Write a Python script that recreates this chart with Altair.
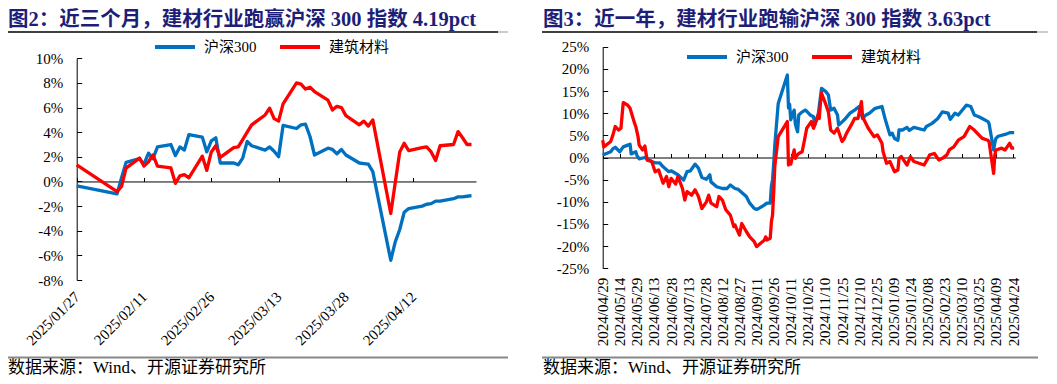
import altair as alt
import pandas as pd

# ---------------- data ----------------
SERIES = ["沪深300", "建筑材料"]
COLORS = ["#0070C0", "#FF0000"]

TITLE_L = "图2：近三个月，建材行业跑赢沪深 300 指数 4.19pct"
TITLE_R = "图3：近一年，建材行业跑输沪深 300 指数 3.63pct"
SOURCE = "数据来源：Wind、开源证券研究所"

# left panel (last three months), % cumulative
L_DATES = ["2025-01-27", "2025-02-05", "2025-02-06", "2025-02-07", "2025-02-10", "2025-02-11",
           "2025-02-12", "2025-02-13", "2025-02-14", "2025-02-17", "2025-02-18", "2025-02-19",
           "2025-02-20", "2025-02-21", "2025-02-24", "2025-02-25", "2025-02-26", "2025-02-27",
           "2025-02-28", "2025-03-03", "2025-03-04", "2025-03-05", "2025-03-06", "2025-03-07",
           "2025-03-10", "2025-03-11", "2025-03-12", "2025-03-13", "2025-03-14", "2025-03-17",
           "2025-03-18", "2025-03-19", "2025-03-20", "2025-03-21", "2025-03-24", "2025-03-25",
           "2025-03-26", "2025-03-27", "2025-03-28", "2025-03-31", "2025-04-01", "2025-04-02",
           "2025-04-03", "2025-04-07", "2025-04-08", "2025-04-09", "2025-04-10", "2025-04-11",
           "2025-04-14", "2025-04-15", "2025-04-16", "2025-04-17", "2025-04-18", "2025-04-21",
           "2025-04-22", "2025-04-23", "2025-04-24", "2025-04-25"]
L_HS300 = [-0.35, -1.0, 0.3, 1.55, 1.85, 1.4, 2.3, 1.85, 2.8, 3.0, 2.1, 2.8,
           2.55, 3.8, 3.6, 2.4, 3.3, 3.55, 1.5, 1.5, 1.35, 1.9, 3.25, 2.9,
           2.55, 2.8, 2.45, 2.0, 4.55, 4.3, 4.6, 4.65, 3.65, 2.15, 2.7, 2.6,
           2.25, 2.6, 2.15, 1.5, 1.45, 1.4, 0.8, -6.4, -4.9, -3.9, -2.5, -2.2,
           -2.0, -1.85, -1.8, -1.6, -1.6, -1.4, -1.25, -1.25, -1.2, -1.15]
L_JC = [1.35, -0.82, -0.4, 1.08, 1.9, 1.25, 1.6, 2.15, 1.25, 1.1, -0.15, 0.45,
        0.55, 0.3, 2.05, 0.9, 2.4, 2.9, 1.95, 2.75, 2.8, 3.4, 4.0, 4.6,
        5.4, 5.95, 5.1, 4.9, 6.3, 8.0, 7.9, 7.5, 7.65, 7.3, 6.6, 5.8,
        6.1, 6.0, 5.35, 4.6, 4.9, 4.5, 5.0, -2.6, -0.1, 2.4, 3.1, 2.5,
        2.75, 2.8, 2.4, 1.7, 2.9, 3.0, 4.05, 3.55, 3.0, 3.0]

# right panel (last year), % cumulative
R_HS_DATES = ["2024-04-29", "2024-05-06", "2024-05-08", "2024-05-10", "2024-05-14", "2024-05-17",
              "2024-05-21", "2024-05-23", "2024-05-24", "2024-05-28", "2024-05-29", "2024-05-31",
              "2024-06-05", "2024-06-11", "2024-06-14", "2024-06-18", "2024-06-21", "2024-06-26",
              "2024-06-28", "2024-07-04", "2024-07-09", "2024-07-12", "2024-07-15", "2024-07-19",
              "2024-07-22", "2024-07-25", "2024-07-29", "2024-08-01", "2024-08-02", "2024-08-07",
              "2024-08-12", "2024-08-16", "2024-08-19", "2024-08-23", "2024-08-26", "2024-08-30",
              "2024-09-02", "2024-09-05", "2024-09-09", "2024-09-11", "2024-09-13", "2024-09-18",
              "2024-09-20", "2024-09-23", "2024-09-24", "2024-09-25", "2024-09-26", "2024-09-27",
              "2024-09-30", "2024-10-08", "2024-10-09", "2024-10-10", "2024-10-11", "2024-10-14",
              "2024-10-15", "2024-10-16", "2024-10-17", "2024-10-18", "2024-10-21", "2024-10-24",
              "2024-10-28", "2024-10-31", "2024-11-01", "2024-11-04", "2024-11-07", "2024-11-11",
              "2024-11-13", "2024-11-15", "2024-11-18", "2024-11-21", "2024-11-22", "2024-11-27",
              "2024-12-02", "2024-12-06", "2024-12-10", "2024-12-13", "2024-12-16", "2024-12-19",
              "2024-12-24", "2024-12-30", "2025-01-02", "2025-01-06", "2025-01-08", "2025-01-10",
              "2025-01-13", "2025-01-14", "2025-01-17", "2025-01-21", "2025-01-23", "2025-01-27",
              "2025-02-05", "2025-02-07", "2025-02-12", "2025-02-17", "2025-02-21", "2025-02-26",
              "2025-02-28", "2025-03-04", "2025-03-07", "2025-03-14", "2025-03-18", "2025-03-21",
              "2025-03-25", "2025-03-28", "2025-04-02", "2025-04-03", "2025-04-07", "2025-04-08",
              "2025-04-09", "2025-04-11", "2025-04-17", "2025-04-21", "2025-04-25"]
R_HS300 = [0.55, 1.3, 2.0, 2.3, 1.3, 2.4, 2.8, 3.0, 0.8, 1.3,
           0.5, -0.3, 0.0, -0.9, -1.2, -1.2, -2.1, -3.2, -3.0, -3.9,
           -5.1, -3.2, -3.0, -1.5, -2.4, -4.5, -4.9, -3.9, -5.5, -6.6,
           -7.0, -7.0, -6.2, -7.0, -7.2, -8.1, -8.8, -10.3, -11.5, -11.7,
           -11.5, -10.7, -10.3, -10.3, -6.5, -5.0, -1.5, 2.8, 12.2, 18.6,
           11.2, 12.0, 8.5, 10.7, 7.6, 6.6, 5.8, 9.6, 10.3, 10.7,
           9.6, 9.2, 7.3, 9.6, 15.6, 14.8, 14.1, 10.7, 11.1, 9.6,
           7.3, 8.5, 10.0, 10.7, 11.5, 8.8, 9.6, 10.0, 11.1, 11.5,
           8.5, 5.1, 5.5, 4.3, 3.9, 6.2, 6.2, 6.8, 6.1, 6.8,
           6.2, 7.0, 7.7, 8.8, 10.3, 10.0, 8.6, 10.0, 9.6, 11.8,
           11.5, 9.6, 9.2, 8.8, 8.1, 7.6, 1.7, 3.3, 4.3, 4.8,
           5.2, 5.6, 5.6]
R_JC_DATES = ["2024-04-29", "2024-04-30", "2024-05-06", "2024-05-08", "2024-05-10", "2024-05-13",
              "2024-05-15", "2024-05-17", "2024-05-21", "2024-05-23", "2024-05-27", "2024-05-28",
              "2024-05-30", "2024-05-31", "2024-06-03", "2024-06-05", "2024-06-07", "2024-06-11",
              "2024-06-14", "2024-06-17", "2024-06-19", "2024-06-21", "2024-06-24", "2024-06-26",
              "2024-06-28", "2024-07-02", "2024-07-04", "2024-07-08", "2024-07-10", "2024-07-12",
              "2024-07-16", "2024-07-19", "2024-07-22", "2024-07-25", "2024-07-29", "2024-07-31",
              "2024-08-02", "2024-08-07", "2024-08-09", "2024-08-12", "2024-08-15", "2024-08-19",
              "2024-08-22", "2024-08-23", "2024-08-27", "2024-08-29", "2024-09-02", "2024-09-05",
              "2024-09-09", "2024-09-11", "2024-09-13", "2024-09-18", "2024-09-19", "2024-09-20",
              "2024-09-23", "2024-09-24", "2024-09-25", "2024-09-26", "2024-09-27", "2024-09-30",
              "2024-10-08", "2024-10-09", "2024-10-10", "2024-10-11", "2024-10-14", "2024-10-15",
              "2024-10-16", "2024-10-18", "2024-10-21", "2024-10-23", "2024-10-25", "2024-10-29",
              "2024-10-31", "2024-11-04", "2024-11-05", "2024-11-06", "2024-11-07", "2024-11-11",
              "2024-11-13", "2024-11-15", "2024-11-18", "2024-11-21", "2024-11-25", "2024-11-27",
              "2024-11-29", "2024-12-03", "2024-12-06", "2024-12-09", "2024-12-12", "2024-12-13",
              "2024-12-18", "2024-12-23", "2024-12-26", "2024-12-30", "2024-12-31", "2025-01-03",
              "2025-01-06", "2025-01-10", "2025-01-13", "2025-01-14", "2025-01-16", "2025-01-21",
              "2025-01-24", "2025-01-27", "2025-02-05", "2025-02-10", "2025-02-14", "2025-02-18",
              "2025-02-21", "2025-02-25", "2025-02-27", "2025-03-03", "2025-03-07", "2025-03-12",
              "2025-03-17", "2025-03-21", "2025-03-25", "2025-03-28", "2025-04-02", "2025-04-03",
              "2025-04-07", "2025-04-08", "2025-04-09", "2025-04-14", "2025-04-17", "2025-04-21",
              "2025-04-23", "2025-04-25"]
R_JC = [3.9, 2.4, 3.6, 5.1, 7.0, 6.2, 6.6, 12.4, 11.8, 11.1,
        7.7, 7.0, 4.7, 2.8, 1.7, 2.6, -0.6, -0.9, -3.2, -2.8,
        -4.3, -5.8, -4.3, -6.6, -4.7, -6.0, -4.3, -7.0, -9.6, -7.7,
        -8.5, -7.3, -8.8, -11.5, -10.0, -8.5, -10.3, -11.1, -8.8, -9.6,
        -11.8, -13.0, -15.6, -15.2, -17.5, -14.9, -16.7, -17.9, -19.0, -20.1,
        -19.7, -18.6, -17.9, -18.6, -18.2, -14.5, -13.0, -8.0, -2.0, 4.7,
        8.1, -1.7, -0.9, -1.5, 1.7, -0.2, 0.3, 0.9, 1.3, 3.9,
        6.6, 8.1, 6.6, 9.6, 8.8, 12.2, 14.5, 11.8, 10.3, 6.2,
        5.5, 6.6, 3.6, 4.3, 5.5, 7.3, 8.8, 8.8, 12.6, 9.2,
        6.6, 4.7, 5.1, 3.2, 1.3, -1.3, -0.9, -3.2, -2.8, -0.2,
        0.2, -1.7, 0.2, -0.9, -1.7, 0.6, 0.9, -0.6, -0.2, 0.6,
        1.7, 2.4, 3.9, 4.7, 7.0, 6.2, 5.1, 4.3, 3.9, 3.5,
        -3.6, 0.5, 1.7, 2.1, 1.7, 3.2, 2.1, 2.1]

L_DOMAIN = ["2025-01-27", "2025-04-26"]
R_DOMAIN = ["2024-04-29", "2025-04-26"]
L_XTICKS = ["2025-01-27", "2025-02-11", "2025-02-26", "2025-03-13", "2025-03-28", "2025-04-12"]
R_XTICKS = ["2024-04-29", "2024-05-14", "2024-05-29", "2024-06-13", "2024-06-28", "2024-07-13",
            "2024-07-28", "2024-08-12", "2024-08-27", "2024-09-11", "2024-09-26", "2024-10-11",
            "2024-10-26", "2024-11-10", "2024-11-25", "2024-12-10", "2024-12-25", "2025-01-09",
            "2025-01-24", "2025-02-08", "2025-02-23", "2025-03-10", "2025-03-25", "2025-04-09",
            "2025-04-24"]
L_YDOM = [-8, 10]
R_YDOM = [-25, 25]
L_YTICKS = [-8, -6, -4, -2, 0, 2, 4, 6, 8, 10]
R_YTICKS = [-25, -20, -15, -10, -5, 0, 5, 10, 15, 20, 25]

# ---------------- layout (pixels inside the view) ----------------
W, H = 1041, 368
LX0, LX1 = 68.7, 468.0
LY_TOP, LY_BOT = 50.3, 272.0
RX0, RX1 = 594.7, 1007.3
RY_TOP, RY_BOT = 38.7, 260.3

SERIF = "Liberation Serif, Noto Sans CJK SC"
TXT = "#000000"


def dt(s):
    t = pd.Timestamp(s)
    return alt.DateTime(year=t.year, month=t.month, date=t.day, utc=True)


def zero_px(dom, top, bot):
    return bot - (0 - dom[0]) / (dom[1] - dom[0]) * (bot - top)


left_df = pd.concat([
    pd.DataFrame({"date": L_DATES, "value": L_HS300, "series": SERIES[0]}),
    pd.DataFrame({"date": L_DATES, "value": L_JC, "series": SERIES[1]}),
])
right_df = pd.concat([
    pd.DataFrame({"date": R_HS_DATES, "value": R_HS300, "series": SERIES[0]}),
    pd.DataFrame({"date": R_JC_DATES, "value": R_JC, "series": SERIES[1]}),
])

color_scale = alt.Scale(domain=SERIES, range=COLORS)


def panel(df, xdom, xr, ydom, yr, xticks, yticks, label_angle, label_pad_x, legend_xy):
    xs = alt.Scale(type="utc", domain=[dt(xdom[0]), dt(xdom[1])], range=list(xr), nice=False)
    ys = alt.Scale(domain=ydom, range=[yr[1], yr[0]], nice=False, zero=False)
    zpx = zero_px(ydom, yr[0], yr[1])
    xvals = [dt(v) for v in xticks]
    lab = dict(labelAngle=label_angle, labelAlign="right", labelBaseline="middle")
    x_lab_axis = alt.Axis(orient="bottom", offset=-(H - yr[1]), values=xvals,
                          labelExpr="utcFormat(datum.value, '%Y/%m/%d')",
                          ticks=False, tickSize=0,
                          domain=False, grid=False, title=None, labelPadding=label_pad_x,
                          labelFont=SERIF, labelFontSize=15, labelColor=TXT,
                          labelOverlap=False, labelFlush=False, labelBound=False, **lab)
    y_lab_axis = alt.Axis(orient="left", offset=-xr[0], values=yticks,
                          labelExpr="datum.value + '%'", ticks=False, tickSize=0,
                          domain=True, domainColor="#000000", domainWidth=1, grid=False,
                          title=None, labelPadding=14, labelFont=SERIF, labelFontSize=15,
                          labelColor=TXT, labelOverlap=False, labelFlush=False)
    x_tick_axis = alt.Axis(orient="top", offset=-zpx, values=xvals, labels=False,
                           ticks=True, tickSize=4, tickColor="#000000", domain=True,
                           domainColor="#000000", domainWidth=1, grid=False, title=None)
    y_tick_axis = alt.Axis(orient="right", offset=-(W - xr[0]), values=yticks, labels=False,
                           ticks=True, tickSize=5, tickColor="#000000", domain=False,
                           grid=False, title=None)
    legend = alt.Legend(orient="none", legendX=legend_xy[0], legendY=legend_xy[1],
                        direction="horizontal", title=None, symbolType="stroke",
                        symbolSize=1600, symbolStrokeWidth=4, labelFont=SERIF,
                        labelFontSize=15, labelColor=TXT, labelOffset=7, columnPadding=15,
                        padding=0)
    axes_layer = alt.Chart(df).mark_line(strokeOpacity=0).encode(
        x=alt.X("date:T", scale=xs, axis=x_tick_axis),
        y=alt.Y("value:Q", scale=ys, axis=y_tick_axis),
        detail="series:N",
    )
    lines = alt.Chart(df).mark_line(strokeWidth=3.3, strokeJoin="round").encode(
        x=alt.X("date:T", scale=xs, axis=x_lab_axis),
        y=alt.Y("value:Q", scale=ys, axis=y_lab_axis),
        color=alt.Color("series:N", scale=color_scale, legend=legend),
    )
    return axes_layer, lines


la, ll = panel(left_df, L_DOMAIN, (LX0, LX1), L_YDOM, (LY_TOP, LY_BOT), L_XTICKS, L_YTICKS,
               -45, 14, (145, 17))
ra, rl = panel(right_df, R_DOMAIN, (RX0, RX1), R_YDOM, (RY_TOP, RY_BOT), R_XTICKS, R_YTICKS,
               -90, 9, (677, 27))


def text_layer(txt, x, y, size, weight, color):
    return alt.Chart(pd.DataFrame({"t": [txt]})).mark_text(
        align="left", baseline="alphabetic", font=SERIF, fontSize=size,
        fontWeight=weight, color=color,
    ).encode(x=alt.value(x), y=alt.value(y), text="t:N")


def hline(x1, x2, y, color, width):
    return alt.Chart(pd.DataFrame({"a": [0]})).mark_rule(color=color, strokeWidth=width).encode(
        x=alt.value(x1), x2=alt.value(x2), y=alt.value(y))


decor = [
    text_layer(TITLE_L, 0, 18, 20.5, "bold", "#1E1E78"),
    text_layer(TITLE_R, 535, 18, 20.5, "bold", "#1E1E78"),
    hline(0, 490, 24, "#000000", 1.5),
    hline(490, 500, 24, "#BBBBBB", 1.5),
    hline(534, 1029, 24, "#000000", 1.5),
    hline(1029, 1040, 24, "#BBBBBB", 1.5),
    hline(0, 500, 349.5, "#888888", 2),
    hline(534, 1030, 349.5, "#888888", 2),
    text_layer(SOURCE, 0, 365, 17, "normal", "#000000"),
    text_layer(SOURCE, 535, 365, 17, "normal", "#000000"),
]

chart = alt.layer(la, ll, ra, rl, *decor).resolve_scale(
    x="independent", y="independent", color="independent"
).properties(
    width=W, height=H, autosize=alt.AutoSizeParams(type="none"), padding=0,
    background="white",
).configure_view(stroke=None).configure_axis(grid=False)

chart.save("out.html", embed_options={"renderer": "svg", "actions": False})
